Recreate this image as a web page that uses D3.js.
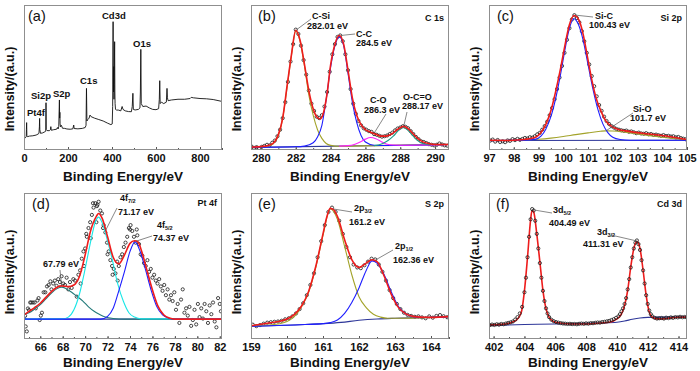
<!DOCTYPE html>
<html><head><meta charset="utf-8">
<script src="https://cdn.jsdelivr.net/npm/d3@7"></script>
<style>
body{margin:0;background:#fff}
svg{display:block}
text{font-family:"Liberation Sans",Arial,sans-serif}
</style>
</head><body>
<svg id="c" width="700" height="371"></svg>
<script>
// ---------------- DATA ----------------
// tick labels
const ticksA = [0, 200, 400, 600, 800];
const ticksB = [280, 282, 284, 286, 288, 290];
const ticksC = [97, 98, 99, 100, 101, 102, 103, 104, 105];
const ticksD = [66, 68, 70, 72, 74, 76, 78, 80, 82];
const ticksE = [159, 160, 161, 162, 163, 164];
const ticksF = [402, 404, 406, 408, 410, 412, 414];

// (a) survey spectrum [eV, intensity]
const surveyLine = [[0,6.9],[4,8.5],[8,8.7],[10,9],[11,14],[12,18.9],[13,10],[16,9.2],[25,9.6],[40,9.8],[55,10.3],[64,11],[68,11.5],[70,16],[71,21.8],[72,14],[75,11.5],[85,11.8],[95,12.6],[99,13],[100,32.6],[101,14],[105,13.4],[115,13.3],[120,14],[122,16.1],[124,13.6],[135,14],[148,14.3],[152,15.5],[155,14.5],[158,16],[161,34.5],[162,22],[163,26],[164,18],[166,16],[170,17],[175,15],[185,14.9],[195,14.5],[210,14.3],[222,14.6],[226,17.2],[228,14.8],[245,14.6],[265,14.9],[278,15.5],[282,17],[284,42.5],[286,20],[290,21],[296,22],[300,24.1],[305,23],[320,22],[340,21],[360,20],[380,18.5],[395,17.5],[401,18],[403,30],[405,88.5],[406,50],[407,40],[408,57.5],[409,35],[410,45],[411,60],[412,74.7],[413,40],[414,32],[416,28],[420,27.6],[430,27.5],[440,27],[446,30],[450,28],[460,27],[475,26.5],[488,26.4],[492,30],[495,39.1],[497,28],[505,27.6],[520,28],[527,29],[529,40],[531,69.4],[533,32],[540,30],[555,30.3],[570,29],[585,28],[600,27.8],[612,28.5],[615,35],[617,47.8],[619,32],[625,33],[635,32],[647,33],[650,42.5],[652,36],[655,34],[670,34.5],[700,35],[730,35],[755,35.5],[760,36.3],[770,36],[800,35.5],[830,35.3],[860,34.8],[900,33.5]];

// (b) C 1s
const c1sPoints = [[279.45,2.5],[279.6,1.5],[279.75,2.0],[279.9,1.2],[280.05,2.2],[280.2,2.8],[280.35,3.6],[280.5,3.2],[280.65,5.0],[280.8,6.5],[280.95,9.5],[281.1,14],[281.25,22],[281.4,33],[281.55,47],[281.7,61],[281.85,73],[282.0,83],[282.15,80],[282.3,72],[282.45,62],[282.6,52],[282.75,41],[282.9,32],[283.05,27],[283.2,23],[283.35,22],[283.5,24],[283.65,30],[283.8,40],[283.95,54],[284.1,66],[284.25,73],[284.4,78],[284.55,79],[284.7,75],[284.85,66],[285.0,55],[285.15,42],[285.3,32],[285.45,25],[285.6,20],[285.75,17],[285.9,15],[286.05,14],[286.2,13],[286.35,12.5],[286.5,11],[286.65,10.5],[286.8,9.8],[286.95,9.2],[287.1,9.5],[287.25,10],[287.4,11],[287.55,12],[287.7,13.5],[287.85,14.8],[288.0,15.5],[288.15,16.4],[288.3,16],[288.45,15],[288.6,13],[288.75,11],[288.9,9],[289.05,7.5],[289.2,6],[289.35,5.5],[289.5,4.8],[289.65,4],[289.8,3.6],[289.95,3.2],[290.1,3.6],[290.25,4.5],[290.4,3.8],[290.55,3.2],[290.7,3.0]];
const c1sEnvelope = [[279.43,2.0],[280.0,2.3],[280.5,3.4],[280.8,5.9],[281.0,10.6],[281.25,22],[281.5,44],[281.75,65.5],[282.0,82.5],[282.25,75.5],[282.5,59],[282.75,41],[283.0,28.5],[283.2,23],[283.4,21.5],[283.6,26],[283.8,39],[284.0,58.5],[284.25,73],[284.5,79],[284.75,73],[285.0,55],[285.25,36],[285.5,24],[285.75,17.5],[286.0,14],[286.3,12.3],[286.6,10.8],[286.9,9.6],[287.2,9.6],[287.5,11],[287.8,13.8],[288.0,15.4],[288.2,16.3],[288.45,14.8],[288.75,11],[289.0,8],[289.3,5.6],[289.6,4.5],[290.0,3.8],[290.8,3.8]];
const c1sCSi = [[279.43,1.8],[280.0,2.0],[280.5,3.0],[280.8,5.5],[281.0,10],[281.25,22],[281.5,43],[281.75,65],[282.0,82],[282.25,75],[282.5,58],[282.75,38],[283.0,24],[283.25,14],[283.5,8],[283.75,4.5],[284.0,3.2],[284.5,2.6],[285.0,2.7],[290.8,3.8]];
const c1sCC = [[279.43,1.8],[282.0,2.2],[282.5,2.7],[283.0,5],[283.25,9],[283.5,17],[283.75,35],[284.0,57],[284.25,72],[284.5,78],[284.75,72],[285.0,53],[285.25,33],[285.5,19],[285.75,10],[286.0,5.5],[286.5,3.3],[287.0,3.1],[290.8,3.8]];
const c1sCO = [[284.5,2.7],[285.0,3.0],[285.4,4.0],[285.7,5.5],[286.0,7.5],[286.3,8.6],[286.6,7.8],[286.9,5.8],[287.2,4.2],[287.6,3.4],[288.0,3.3],[290.8,3.8]];
const c1sOCO = [[286.5,3.0],[287.0,4.5],[287.3,6.5],[287.6,9.5],[287.9,13.5],[288.17,15.6],[288.45,13.5],[288.75,9.5],[289.0,6.5],[289.3,4.5],[289.7,3.8],[290.8,3.8]];
const c1sBaseline = [[279.43,1.8],[290.8,3.8]];

// (c) Si 2p
const si2pPoints = [[97.05,6.5],[97.15,7.2],[97.25,5.8],[97.35,6.9],[97.45,5.5],[97.55,6.0],[97.65,5.4],[97.75,6.6],[97.85,6.3],[97.95,7.5],[98.05,6.8],[98.15,7.7],[98.25,7.0],[98.35,7.6],[98.45,8.3],[98.55,7.9],[98.65,8.8],[98.75,8.5],[98.85,9.5],[98.95,10.8],[99.05,11.8],[99.15,14],[99.25,16.5],[99.35,19.5],[99.45,24],[99.55,29],[99.65,35],[99.75,42],[99.85,50],[99.95,58],[100.05,67],[100.15,76],[100.25,84],[100.35,90],[100.45,93],[100.55,91],[100.65,88],[100.75,82],[100.85,75],[100.95,67],[101.05,59],[101.15,51],[101.25,44],[101.35,37],[101.45,31],[101.55,27],[101.65,23],[101.75,20],[101.85,18],[101.95,16.5],[102.05,15.5],[102.15,14.5],[102.25,14],[102.35,13.6],[102.45,13.2],[102.55,13.4],[102.65,12.6],[102.75,12.8],[102.85,12.2],[102.95,11.6],[103.05,12],[103.15,11.4],[103.25,11.2],[103.35,11.6],[103.45,10.8],[103.55,11],[103.65,10.4],[103.75,10.6],[103.85,10.2],[103.95,9.8],[104.05,10.3],[104.15,9.6],[104.25,9.8],[104.35,9.3],[104.45,9.5],[104.55,8.7],[104.65,9.0],[104.75,8.2],[104.85,7.8],[104.95,7.4]];
const si2pEnvelope = [[97,6.7],[97.8,6.6],[98.5,7.4],[98.9,9.0],[99.1,12],[99.3,17.8],[99.5,27],[99.7,40.9],[99.9,57],[100.08,73.2],[100.24,85.9],[100.44,92.8],[100.64,89.4],[100.8,80.1],[100.98,64],[101.16,47.8],[101.32,36.3],[101.52,27],[101.72,20.1],[101.93,16.6],[102.2,14.3],[102.53,13.2],[103.2,11.5],[103.9,10.2],[104.4,9.0],[105,7.2]];
const si2pSiC = [[97,6.6],[98.5,6.8],[98.9,7.5],[99.1,9.5],[99.3,14.5],[99.5,23],[99.7,36],[99.9,53],[100.1,72],[100.25,84],[100.43,90.5],[100.6,87],[100.8,76],[101.0,59],[101.2,42],[101.4,28],[101.6,18],[101.8,12],[102.0,8.8],[102.3,7.2],[102.7,6.7],[105,6.7]];
const si2pSiO = [[97,6.6],[98.5,6.9],[99.0,7.4],[99.5,8.2],[100.0,9.3],[100.5,10.6],[101.0,11.8],[101.5,12.9],[101.7,13.2],[102.0,13.1],[102.5,12.3],[103.0,11.1],[103.5,9.9],[104.0,8.8],[104.5,7.8],[105,7.1]];
const si2pBaseline = [[97,6.5],[105,6.7]];

// (d) Pt 4f
const pt4fPoints = [[64.65,15.9],[64.7,8.6],[64.8,5.2],[64.9,20.9],[65.0,19.8],[65.1,25],[65.2,25],[65.35,25],[65.5,25],[65.6,21],[65.75,26.4],[65.85,28],[65.95,13],[66.05,16],[66.15,18],[66.3,32],[66.45,32],[66.6,36],[66.75,37],[66.9,39.5],[67.0,34],[67.15,38],[67.3,40],[67.45,36.4],[67.6,41],[67.75,39],[67.9,43],[68.05,38],[68.2,37],[68.35,42],[68.5,34],[68.65,39],[68.8,35],[68.95,41],[69.1,40],[69.25,29],[69.4,44],[69.55,47],[69.6,38],[69.7,55],[69.85,60],[69.9,50],[70.0,62],[70.1,72],[70.15,70],[70.3,76],[70.45,80],[70.5,69],[70.6,85],[70.7,93],[70.75,90],[70.9,93],[71.0,80],[71.05,91],[71.1,92],[71.2,94],[71.35,88],[71.5,86],[71.6,76],[71.65,78],[71.8,73],[71.95,66],[72.0,58],[72.1,60],[72.25,54],[72.4,50],[72.45,44],[72.55,48],[72.7,45],[72.85,53],[72.9,40],[73.0,50],[73.15,56],[73.3,58],[73.45,63],[73.6,66],[73.75,70],[73.9,76],[74.0,75],[74.05,78],[74.2,74],[74.35,70],[74.5,66],[74.6,75],[74.65,71],[74.8,65],[74.95,58],[75.1,57],[75.25,52],[75.4,50],[75.55,54],[75.7,46],[75.85,48],[76.0,42],[76.15,44],[76.3,40],[76.45,38],[76.6,41],[76.75,36],[76.9,33],[77.05,37],[77.2,30],[77.35,34],[77.5,27],[77.65,30],[77.8,26],[77.95,32],[78.1,20],[78.25,24],[78.4,11],[78.55,27],[78.7,34],[78.85,18],[79.0,21],[79.15,16],[79.3,22],[79.45,9],[79.6,13],[79.75,20],[79.9,10],[80.05,24],[80.2,15],[80.35,21],[80.5,14],[80.65,24],[80.8,19],[80.95,11],[81.1,23],[81.25,17],[81.4,25],[81.55,12],[81.7,8],[81.85,28],[82.0,24],[82.1,19]];
const pt4fEnvelope = [[64.55,16.5],[65.0,18.9],[65.5,21.5],[66.0,24.5],[66.5,28.5],[67.0,32.5],[67.5,35.5],[67.9,36.4],[68.5,35.9],[69.0,37],[69.5,43],[70.0,57.5],[70.5,74.5],[71.0,84],[71.2,86],[71.5,83],[72.0,70],[72.5,56],[73.0,51.5],[73.5,57.5],[74.0,65.5],[74.4,67.3],[74.7,66.6],[75.0,61],[75.5,47.3],[76.0,33.6],[76.5,22.3],[77.0,16.6],[77.5,14.3],[78.0,13.6],[82.2,13.6]];
const pt4fPeak1 = [[64.55,17],[65.0,18],[65.5,20.5],[66.0,23.5],[66.5,27.5],[67.0,31.5],[67.5,34.5],[67.9,35.5],[68.3,34.5],[68.8,32],[69.3,29],[69.8,26],[70.3,22],[70.8,19],[71.3,16.8],[71.8,15],[72.5,14],[73.5,13.6],[82.2,13.6]];
const pt4fPeak2 = [[64.55,13.6],[68.0,13.8],[68.5,15],[69.0,20],[69.5,31],[70.0,48],[70.5,67],[70.9,80],[71.2,83.5],[71.5,80],[71.9,70],[72.4,55],[72.9,38],[73.4,26],[73.9,18],[74.4,15],[75.0,13.8],[82.2,13.6]];
const pt4fPeak3 = [[64.55,13.6],[71.4,13.6],[72.0,15.5],[72.5,21],[73.0,33],[73.5,46],[74.0,60],[74.45,66.5],[74.9,60],[75.4,47],[75.9,33],[76.4,22],[76.9,16.5],[77.5,14.2],[78.0,13.6],[82.2,13.6]];
const pt4fBaseline = [[64.55,19],[64.65,14],[64.8,13.6],[82.2,13.6]];

// (e) S 2p
const s2pPoints = [[159.05,9.8],[159.15,8.8],[159.25,9.5],[159.35,10.5],[159.45,11.2],[159.55,11.5],[159.65,11.8],[159.75,12],[159.85,12.5],[159.95,13.5],[160.05,14.2],[160.15,15.5],[160.25,17.5],[160.35,20.5],[160.45,24.5],[160.55,30],[160.65,37],[160.75,45],[160.85,56],[160.95,67],[161.05,78],[161.15,87],[161.25,90],[161.35,87],[161.45,81],[161.55,72],[161.65,63],[161.75,56],[161.85,51],[161.95,49],[162.05,48.5],[162.15,50.5],[162.25,53],[162.35,55],[162.45,54.5],[162.55,51],[162.65,46],[162.75,40],[162.85,33.5],[162.95,28],[163.05,24],[163.15,20.5],[163.25,18],[163.35,16.5],[163.45,15.8],[163.55,15.2],[163.65,15.5],[163.75,14.8],[163.85,14.2],[163.95,15.5],[164.05,14.6],[164.15,15.8],[164.25,16.4],[164.35,15.6],[164.45,14.9]];
const s2pEnvelope = [[159,9.1],[159.5,11],[159.8,12.1],[160.0,13.7],[160.2,16.7],[160.4,22.4],[160.6,32.6],[160.8,49.8],[161.0,72],[161.1,83],[161.2,89.5],[161.3,88.5],[161.4,84],[161.6,68],[161.8,54.3],[162.0,49],[162.2,52],[162.36,54.3],[162.5,53],[162.7,43],[162.9,30.4],[163.1,21.5],[163.3,17.2],[163.5,15.5],[163.8,14.9],[164.0,14.8],[164.5,15.3]];
const s2pPeak1 = [[159,8.8],[159.5,9.6],[159.8,10.5],[160.0,12],[160.2,15.3],[160.4,22],[160.6,32],[160.8,49],[161.0,71],[161.2,89],[161.4,82],[161.6,63.5],[161.8,44],[162.0,29],[162.2,21.5],[162.4,17],[162.6,15],[162.8,14.2],[163.0,14.2],[164.5,15.3]];
const s2pPeak2 = [[159,8.7],[160.5,9.9],[161.0,10.5],[161.2,11.2],[161.4,13],[161.6,17.5],[161.8,25],[162.0,35],[162.2,47],[162.36,53.5],[162.5,52],[162.7,44],[162.9,32],[163.1,22],[163.3,17.2],[163.5,15.3],[163.8,14.7],[164.5,15.3]];
const s2pBaseline = [[159,8.7],[160,9.4],[160.5,9.9],[161,10.5],[161.5,11.4],[162,12.8],[162.5,13.7],[163,14.2],[164,14.8],[164.5,15.3]];

// (f) Cd 3d
const cd3dPoints = [[401.75,9.5],[401.9,9.9],[402.05,9.6],[402.2,10.1],[402.35,9.8],[402.5,10.3],[402.65,10.1],[402.8,10.6],[402.95,11],[403.1,11.4],[403.25,12],[403.4,13.3],[403.55,15],[403.7,17.5],[403.85,22],[404.0,32],[404.1,42],[404.2,56],[404.3,70],[404.4,82],[404.5,89],[404.6,88],[404.7,81],[404.8,72],[404.9,62],[405.0,52],[405.1,42],[405.2,33],[405.3,26],[405.4,21],[405.5,17.5],[405.6,15],[405.75,13.2],[405.9,12.2],[406.05,11.6],[406.2,11.2],[406.35,10.9],[406.5,10.6],[406.65,10.5],[406.8,10.3],[406.95,10.4],[407.1,10.2],[407.25,10.3],[407.4,10.1],[407.55,10.4],[407.7,10.6],[407.85,10.4],[408.0,10.7],[408.15,10.5],[408.3,10.9],[408.45,10.8],[408.6,11.1],[408.75,11.3],[408.9,11.2],[409.05,11.6],[409.2,11.8],[409.35,12.1],[409.5,12.4],[409.65,13],[409.8,13.6],[409.95,14.5],[410.1,15.5],[410.2,17],[410.3,19],[410.4,21],[410.5,24],[410.6,28],[410.7,34],[410.8,41],[410.9,49],[411.0,56],[411.1,62],[411.2,66],[411.3,67.5],[411.4,65],[411.5,61],[411.6,54],[411.7,47],[411.8,38],[411.9,30],[412.0,24],[412.1,19.5],[412.2,17],[412.3,15.5],[412.45,14.5],[412.6,14],[412.75,14.2],[412.9,14.4],[413.05,14],[413.2,14.6],[413.35,14.3],[413.5,14.8],[413.65,14.5],[413.8,15],[413.95,14.8],[414.1,15.2],[414.25,14.9],[414.4,15.1],[414.55,14.7]];
const cd3dEnvelope = [[401.7,9.7],[402.5,10],[403.0,10.8],[403.5,13.1],[403.8,18.4],[404.0,33],[404.2,56],[404.4,81.6],[404.49,88],[404.6,87],[404.8,72],[405.0,53],[405.2,33.3],[405.4,20.7],[405.6,14.9],[405.8,12.6],[406.0,11.5],[407.0,10.3],[408.0,10.3],[409.0,11],[409.5,11.5],[410.0,13.8],[410.3,17.2],[410.5,23],[410.7,33.3],[410.9,49.4],[411.1,62.1],[411.31,66.7],[411.5,62.1],[411.7,47.1],[411.9,29.9],[412.1,18.4],[412.3,14.9],[412.6,13.8],[413.0,13.8],[413.5,14.5],[414.0,14.9],[414.55,15]];
const cd3dBaseline = [[401.7,9.2],[404,9.9],[406,10.3],[408,10.8],[409,11],[410,11.5],[410.5,12.3],[411,13.5],[411.5,14.4],[412,14.8],[413,15],[414.55,15.2]];

// ---------------- DRAWING ----------------
const svg = d3.select('#c');
const FONT = '"Liberation Sans",Arial,sans-serif';
const C = {red:'#ee1c1c', blue:'#1e1eff', olive:'#a3a32a', magenta:'#ff22ff', teal:'#1f9e88',
           cyan:'#19e6e6', dteal:'#237a7a', base:'#2e3799', frame:'#8f8f8f', pt:'#1a1a1a'};

function panel(cfg){
  const x = d3.scaleLinear().domain(cfg.domain).range([cfg.left, cfg.right]);
  const y = d3.scaleLinear().domain([0,100]).range([cfg.bottom, cfg.top]);
  const id = 'clip-' + cfg.key;
  svg.append('clipPath').attr('id', id).append('rect')
    .attr('x', cfg.left).attr('y', cfg.top)
    .attr('width', cfg.right - cfg.left).attr('height', cfg.bottom - cfg.top);
  const plot = svg.append('g').attr('clip-path', `url(#${id})`);
  const mn = svg.append('g').attr('transform', `translate(0,${cfg.bottom})`)
    .call(d3.axisBottom(x).tickValues(cfg.minor).tickSize(-2).tickFormat(''));
  mn.select('.domain').remove();
  mn.selectAll('line').attr('stroke', '#555');
  const ax = svg.append('g').attr('transform', `translate(0,${cfg.bottom})`)
    .call(d3.axisBottom(x).tickValues(cfg.ticks).tickSize(-3).tickPadding(4).tickFormat(d3.format('d')));
  ax.select('.domain').remove();
  ax.selectAll('line').attr('stroke', '#555');
  ax.selectAll('text').attr('font-size', 11).attr('font-weight', 'bold')
    .attr('font-family', FONT).attr('fill', '#111');
  svg.append('rect').attr('x', cfg.left + 0.5).attr('y', cfg.top + 0.5)
    .attr('width', cfg.right - cfg.left - 1).attr('height', cfg.bottom - cfg.top - 1)
    .attr('fill', 'none').attr('stroke', C.frame).attr('stroke-width', 1);
  svg.append('text').attr('x', (cfg.left + cfg.right) / 2).attr('y', cfg.xTitleY)
    .attr('text-anchor', 'middle').attr('font-size', 13.5).attr('font-weight', 'bold')
    .attr('fill', '#111').text('Binding Energy/eV');
  svg.append('text').attr('transform', `translate(${cfg.left - 14},${cfg.yTitleY}) rotate(-90)`)
    .attr('text-anchor', 'middle').attr('dy', '0.35em').attr('font-size', 12.5).attr('font-weight', 'bold')
    .attr('fill', '#111').text('Intensity/(a.u.)');
  svg.append('text').attr('x', cfg.left + cfg.letterDx).attr('y', cfg.top + 16)
    .attr('font-size', 14.5).attr('fill', '#111').text(cfg.letter);
  if (cfg.element) svg.append('text').attr('x', cfg.right - 5).attr('y', cfg.top + cfg.elemDy)
    .attr('text-anchor', 'end').attr('font-size', 9).attr('font-weight', 'bold')
    .attr('fill', '#111').text(cfg.element);
  return {x, y, plot, cfg};
}

function line(p, data, color, width, curve){
  p.plot.append('path').datum(data)
    .attr('d', d3.line().x(d => p.x(d[0])).y(d => p.y(d[1])).curve(curve || d3.curveMonotoneX))
    .attr('fill', 'none').attr('stroke', color).attr('stroke-width', width)
    .attr('stroke-linejoin', 'round');
}
function points(p, data){
  p.plot.append('g').selectAll('circle').data(data).join('circle')
    .attr('cx', d => p.x(d[0])).attr('cy', d => p.y(d[1])).attr('r', 1.6)
    .attr('fill', 'none').attr('stroke', C.pt).attr('stroke-width', 0.8);
}
function note(p, rows, tail, tip){
  rows.forEach(r => {
    const t = svg.append('text').attr('x', r[0]).attr('y', r[1])
      .attr('font-size', r[4] || 9).attr('font-weight', 'bold').attr('fill', '#111');
    t.append('tspan').text(r[2]);
    if (r[3]) t.append('tspan').attr('font-size', 5.5).attr('dy', 2).text(r[3]);
  });
  if (tail && tip){
    svg.append('line').attr('x1', tail[0]).attr('y1', tail[1])
      .attr('x2', p.x(tip[0])).attr('y2', p.y(tip[1]))
      .attr('stroke', '#555').attr('stroke-width', 0.7);
  }
}

const rowTop = {top:5, bottom:150, xTitleY:181, yTitleY:89};
const rowBot = {top:193, bottom:339, xTitleY:367, yTitleY:272};

// (a)
const pa = panel(Object.assign({key:'a', left:24, right:222, domain:[0,900], ticks:ticksA,
  minor:d3.range(0, 901, 100), letter:'(a)', letterDx:4}, rowTop));
line(pa, surveyLine, '#111', 0.9, d3.curveLinear);
[['Cd3d',102,19],['O1s',133,47],['C1s',80,84],['S2p',53,97],['Si2p',31,99],['Pt4f',27,116]]
  .forEach(r => note(pa, [[r[1], r[2], r[0], null, 9.5]]));

// (b)
const pb = panel(Object.assign({key:'b', left:251, right:449, domain:[279.43, 290.8], ticks:ticksB,
  minor:d3.range(280, 291, 1), letter:'(b)', letterDx:7, element:'C 1s', elemDy:16}, rowTop));
points(pb, c1sPoints);
line(pb, c1sBaseline, C.base, 1.1);
line(pb, c1sCSi, C.olive, 1.1);
line(pb, c1sCC, C.blue, 1.1);
line(pb, c1sCO, C.magenta, 1.1);
line(pb, c1sOCO, C.teal, 1.1);
line(pb, c1sEnvelope, C.red, 1.6);
note(pb, [[312,19,'C-Si'],[307,29,'282.01 eV']], [311,19], [282.05, 83]);
note(pb, [[356,37,'C-C'],[356,46,'284.5 eV']], [355,34], [284.6, 79]);
note(pb, [[370,103,'C-O'],[364,113,'286.3 eV']], [386,114], [286.5, 11.6]);
note(pb, [[403,100,'O-C=O'],[402,109,'288.17 eV']], [407,112], [288.2, 16.3]);

// (c)
const pc = panel(Object.assign({key:'c', left:489, right:687, domain:[97, 105], ticks:ticksC,
  minor:d3.range(97, 105.01, 0.5), letter:'(c)', letterDx:8, element:'Si 2p', elemDy:16}, rowTop));
points(pc, si2pPoints);
line(pc, si2pBaseline, C.base, 1.1);
line(pc, si2pSiO, C.olive, 1.1);
line(pc, si2pSiC, C.blue, 1.1);
line(pc, si2pEnvelope, C.red, 1.6);
note(pc, [[595,19,'Si-C'],[589,28,'100.43 eV']], [593,17], [100.5, 93]);
note(pc, [[633,112,'Si-O'],[630,121,'101.7 eV']], [633,113], [101.75, 13.5]);

// (d)
const pd = panel(Object.assign({key:'d', left:24, right:222, domain:[64.55, 82.2], ticks:ticksD,
  minor:d3.range(65, 82.1, 1), letter:'(d)', letterDx:8, element:'Pt 4f', elemDy:13}, rowBot));
points(pd, pt4fPoints);
line(pd, pt4fBaseline, C.base, 1.1);
line(pd, pt4fPeak1, C.dteal, 1.1);
line(pd, pt4fPeak2, C.cyan, 1.1);
line(pd, pt4fPeak3, C.blue, 1.1);
line(pd, pt4fEnvelope, C.red, 1.6);
note(pd, [[120,201,'4f','7/2'],[118,215,'71.17 eV']], [117,208], [71.8, 74]);
note(pd, [[157,228,'4f','5/2'],[153,241,'74.37 eV']], [152,236], [74.55, 67]);
note(pd, [[43,267,'67.79 eV']], [60,270], [67.9, 36.4]);

// (e)
const pe = panel(Object.assign({key:'e', left:251, right:449, domain:[159, 164.5], ticks:ticksE,
  minor:d3.range(159, 164.51, 0.5), letter:'(e)', letterDx:7, element:'S 2p', elemDy:14}, rowBot));
points(pe, s2pPoints);
line(pe, s2pBaseline, C.base, 1.1);
line(pe, s2pPeak1, C.olive, 1.1);
line(pe, s2pPeak2, C.blue, 1.1);
line(pe, s2pEnvelope, C.red, 1.6);
note(pe, [[354,211,'2p','3/2'],[349,225,'161.2 eV']], [352,212], [161.3, 89]);
note(pe, [[395,249,'2p','1/2'],[393,263,'162.36 eV']], [393,250], [162.45, 54]);

// (f)
const pf = panel(Object.assign({key:'f', left:489, right:687, domain:[401.7, 414.55], ticks:ticksF,
  minor:d3.range(402, 414.6, 1), letter:'(f)', letterDx:7, element:'Cd 3d', elemDy:14}, rowBot));
line(pf, cd3dBaseline, C.base, 1.1);
line(pf, cd3dEnvelope, C.red, 1.6);
points(pf, cd3dPoints);
note(pf, [[553,213,'3d','5/2'],[549,226,'404.49 eV']], [552,213], [404.55, 88.5]);
note(pf, [[597,235,'3d','3/2'],[583,247,'411.31 eV']], [611,235], [411.35, 67]);
</script>
</body></html>
